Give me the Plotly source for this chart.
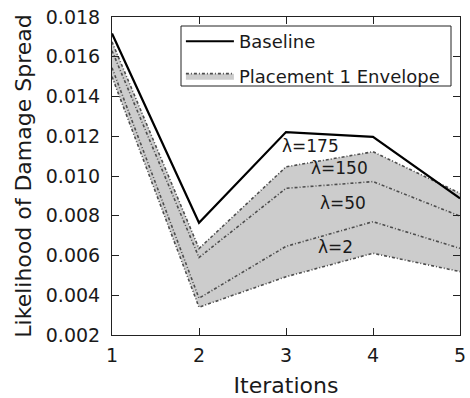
import plotly.graph_objects as go

iterations = [1, 2, 3, 4, 5]
baseline = [0.01717, 0.00765, 0.01221, 0.01197, 0.00887]
lam175 = [0.01675, 0.00635, 0.01046, 0.01122, 0.00913]
lam150 = [0.01630, 0.00590, 0.00938, 0.00972, 0.00798]
lam50 = [0.01545, 0.00385, 0.00646, 0.00770, 0.00636]
lam2 = [0.01500, 0.00340, 0.00493, 0.00611, 0.00519]

label_text = ["λ=175", "λ=150", "λ=50", "λ=2"]
label_x = [3.28, 3.62, 3.66, 3.57]
label_y = [0.01150, 0.01040, 0.00864, 0.00644]

font_family = "DejaVu Sans"
text_color = "#1a1a1a"
dot_color = "#4d4d4d"
dash_style = "3px,2px,1px,2px"
fill_color = "#cccccc"

fig = go.Figure()

fig.add_trace(go.Scatter(x=iterations, y=lam2, mode="lines",
                         line=dict(color=dot_color, width=1.6, dash=dash_style),
                         showlegend=False, hoverinfo="skip"))
fig.add_trace(go.Scatter(x=iterations, y=lam175, mode="lines", fill="tonexty",
                         fillcolor=fill_color,
                         line=dict(color=dot_color, width=1.6, dash=dash_style),
                         name="Placement 1 Envelope", legendgroup="b", legendrank=2))
fig.add_trace(go.Scatter(x=iterations, y=lam150, mode="lines",
                         line=dict(color=dot_color, width=1.6, dash=dash_style),
                         showlegend=False))
fig.add_trace(go.Scatter(x=iterations, y=lam50, mode="lines",
                         line=dict(color=dot_color, width=1.6, dash=dash_style),
                         showlegend=False))
fig.add_trace(go.Scatter(x=iterations, y=baseline, mode="lines",
                         line=dict(color="black", width=2.2),
                         name="Baseline", legendgroup="a", legendrank=1))

for t, xx, yy in zip(label_text, label_x, label_y):
    fig.add_annotation(x=xx, y=yy, text=t, showarrow=False,
                       font=dict(family=font_family, size=17, color=text_color))

# legend frame
fig.add_shape(type="rect", xref="paper", yref="paper",
              x0=(181 - 112) / 348, x1=(451 - 112) / 348,
              y0=1 - (86 - 17) / 318, y1=1 - (26 - 17) / 318,
              line=dict(color="#222", width=1), fillcolor="white", layer="below")

axis_common = dict(showline=True, linecolor="#222", linewidth=1, mirror="allticks",
                   ticks="inside", ticklen=7, tickcolor="#222", showgrid=False,
                   zeroline=False, automargin=False,
                   tickfont=dict(family=font_family, size=19, color=text_color))

fig.update_xaxes(range=[1, 5], tickvals=iterations, ticktext=[str(i) for i in iterations],
                 ticklabelstandoff=3,
                 title=dict(text="Iterations", font=dict(family=font_family, size=22, color=text_color),
                            standoff=13),
                 **axis_common)
fig.update_yaxes(range=[0.002, 0.018], dtick=0.002, tick0=0.002, tickformat=".3f",
                 ticklabelstandoff=7,
                 title=dict(text="Likelihood of Damage Spread",
                            font=dict(family=font_family, size=22, color=text_color), standoff=8),
                 **axis_common)

fig.update_layout(
    width=470, height=398,
    margin=dict(l=112, r=10, t=17, b=63),
    paper_bgcolor="white", plot_bgcolor="rgba(0,0,0,0)",
    font=dict(family=font_family),
    showlegend=True,
    legend=dict(x=0.198, y=0.981, xanchor="left", yanchor="top",
                borderwidth=0, bgcolor="rgba(0,0,0,0)",
                font=dict(family=font_family, size=18, color=text_color),
                itemwidth=48,
                tracegroupgap=8, traceorder="grouped"),
)

fig.write_html("out.html", config={"displayModeBar": False},
               post_script="document.body.style.margin='0';document.body.style.overflow='hidden';")
